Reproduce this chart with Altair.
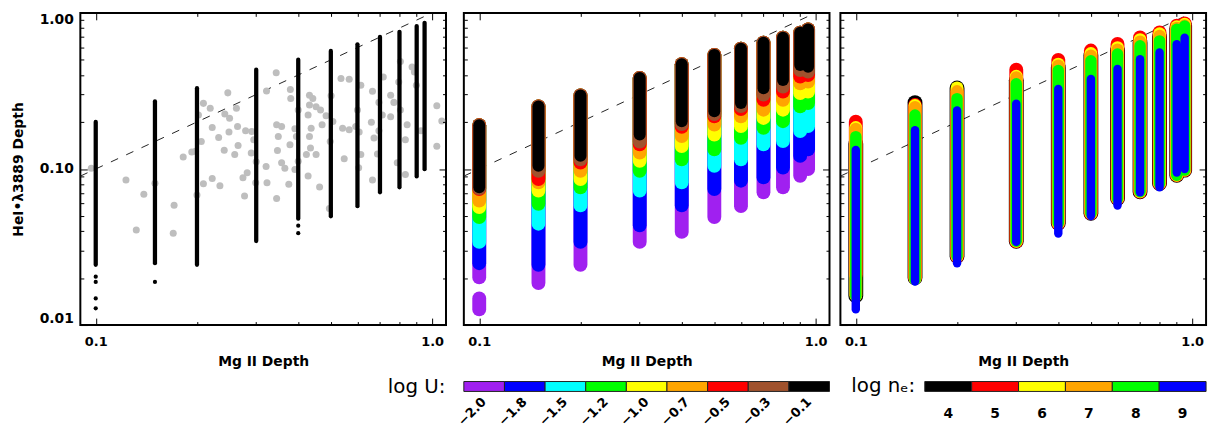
import altair as alt
import pandas as pd

FONT = "DejaVu Sans"

# Mg II depth grid of the photoionisation models
MG = [0.1, 0.15, 0.2, 0.3, 0.4, 0.5, 0.6, 0.7, 0.8, 0.9, 0.95]

# ---------- panel 1: all models (black) + observed (gray) ----------
P1_TOP = [0.200, 0.271, 0.329, 0.433, 0.501, 0.571, 0.629, 0.701, 0.757, 0.824, 0.864]
P1_BOT = [0.0243, 0.0249, 0.0243, 0.0345, 0.048, 0.0497, 0.0578, 0.0709, 0.0763, 0.0896, 0.0997]
P1_ISO_X = [0.1, 0.1, 0.1, 0.1, 0.15, 0.4, 0.4]
P1_ISO_Y = [0.0204, 0.0189, 0.0148, 0.0128, 0.0189, 0.0433, 0.0388]

GRAY_X = [0.097, 0.123, 0.139, 0.132, 0.150, 0.171, 0.170, 0.182, 0.193, 0.198, 0.206, 0.202,
          0.209, 0.219, 0.222, 0.232, 0.209, 0.200, 0.222, 0.234, 0.247, 0.242, 0.250, 0.262,
          0.264, 0.249, 0.241, 0.259, 0.265, 0.279, 0.291, 0.295, 0.290, 0.300, 0.282, 0.274,
          0.277, 0.299, 0.322, 0.321, 0.323,
          0.344, 0.379, 0.380, 0.400, 0.345, 0.357, 0.349, 0.378, 0.347, 0.357, 0.365, 0.375,
          0.345, 0.391, 0.395, 0.391, 0.400, 0.432, 0.442, 0.432, 0.452, 0.466, 0.484, 0.428,
          0.437, 0.432, 0.435, 0.452, 0.423, 0.428, 0.463, 0.471, 0.501, 0.507, 0.498, 0.548,
          0.542, 0.536, 0.567, 0.495, 0.567, 0.600, 0.593, 0.607, 0.614, 0.665, 0.695, 0.660,
          0.695, 0.711, 0.672, 0.614, 0.688, 0.605, 0.665, 0.716, 0.753, 0.770, 0.805, 0.796,
          0.805, 0.753, 0.872, 0.898, 0.843, 0.833, 0.927, 1.033, 1.069, 1.033, 0.788, 0.833,
          0.886]
GRAY_Y = [0.101, 0.0849, 0.0689, 0.0407, 0.0809, 0.0586, 0.0388, 0.1195, 0.1286, 0.1297, 0.1501, 0.2218,
          0.2632, 0.2447, 0.1843, 0.1592, 0.0805, 0.0682, 0.087, 0.0782, 0.3073, 0.2251, 0.2114, 0.2447,
          0.187, 0.1723, 0.1317, 0.1236, 0.1416, 0.1756, 0.1738, 0.1539, 0.1267, 0.1111, 0.0946, 0.088,
          0.0672, 0.0817, 0.3164, 0.1037, 0.0817,
          0.4141, 0.3229, 0.2832, 0.2387, 0.1917, 0.187, 0.1615, 0.1431, 0.1311, 0.1095, 0.101, 0.0797,
          0.0647, 0.1807, 0.1615, 0.0993, 0.1121, 0.2972, 0.2832, 0.2568, 0.2505, 0.2387, 0.2196, 0.2218,
          0.1826, 0.1615, 0.1363, 0.1236, 0.1236, 0.09, 0.0766, 0.1917, 0.2942, 0.2011, 0.1501, 0.1161,
          0.1826, 0.3793, 0.3754, 0.0559, 0.1781, 0.2387, 0.187, 0.1723, 0.3439, 0.315, 0.2671, 0.1994,
          0.1756, 0.2218, 0.1578, 0.1236, 0.1249, 0.1018, 0.0849, 0.3883, 0.2972, 0.2671, 0.4885, 0.3609,
          0.2387, 0.2164, 0.4495, 0.3439, 0.1917, 0.1539, 0.1756, 0.2542, 0.2032, 0.1396, 0.1095, 0.0923,
          0.4178]

# ---------- panel 2: models coloured by log U ----------
U_LABELS = ["\u22122.0", "\u22121.8", "\u22121.5", "\u22121.2", "\u22121.0",
            "\u22120.7", "\u22120.5", "\u22120.3", "\u22120.1"]
U_COLORS = ["#a020f0", "#0000ff", "#00ffff", "#00ff00", "#ffff00",
            "#ffa500", "#ff0000", "#a0522d", "#000000"]
U_WIDTHS = [14, 14, 14, 14, 14, 14, 14, 14, 12]
U_BOT = [
    [0.0202, 0.0186, 0.0243, 0.0341, 0.0395, 0.0492, 0.0578, 0.0709, 0.0763, 0.0905, 0.0997],
    [0.0249, 0.0243, 0.0341, 0.0436, 0.0584, 0.0744, 0.0841, 0.0883, 0.1022, 0.1213, 0.1336],
    [0.0341, 0.0446, 0.0584, 0.0727, 0.0821, 0.1048, 0.1154, 0.1437, 0.151, 0.1748, 0.1881],
    [0.0492, 0.0598, 0.0763, 0.0974, 0.1154, 0.1336, 0.1585, 0.1835, 0.2023, 0.2519, 0.2644],
    [0.057, 0.0727, 0.0861, 0.1127, 0.1404, 0.1663, 0.1881, 0.2123, 0.2397, 0.306, 0.3137],
    [0.0628, 0.0821, 0.0974, 0.1273, 0.1625, 0.1925, 0.2177, 0.2397, 0.2775, 0.3541, 0.3631],
    [0.0744, 0.0861, 0.11, 0.1437, 0.1862, 0.2177, 0.2422, 0.2775, 0.3137, 0.3906, 0.3999],
    [0.0752, 0.0974, 0.1154, 0.15, 0.194, 0.225, 0.253, 0.30, 0.3376, 0.4302, 0.4203],
    [0.0763, 0.1048, 0.1213, 0.1663, 0.2023, 0.2342, 0.2644, 0.3292, 0.3717, 0.4628, 0.4521],
]
U_TOP = [0.1909, 0.2519, 0.2959, 0.3827, 0.4696, 0.5387, 0.5906, 0.6451, 0.6939, 0.7464, 0.7834]
U_EXTRA_X = [0.1]
U_EXTRA_LO = [0.0126]
U_EXTRA_HI = [0.0148]

# ---------- panel 3: models coloured by log n_e ----------
NE_LABELS = ["4", "5", "6", "7", "8", "9"]
NE_COLORS = ["#000000", "#ff0000", "#ffff00", "#ffa500", "#00ff00", "#0000ff"]
NE_WIDTHS = [15, 14, 13, 12.2, 11.5, 8.5]
NE_HI = [
    [0.1451, 0.2663, 0.330, 0.3697, 0.4474, 0.5333, 0.5737, 0.6451, 0.7041, 0.7915, 0.8271],
    [0.2010, 0.2568, 0.3152, 0.4321, 0.5001, 0.5737, 0.6318, 0.6969, 0.7497, 0.8271, 0.8551],
    [0.1843, 0.2549, 0.3307, 0.3925, 0.4696, 0.5492, 0.5995, 0.6739, 0.7356, 0.815, 0.8453],
    [0.1807, 0.2494, 0.3152, 0.3868, 0.4607, 0.5333, 0.5822, 0.6545, 0.7145, 0.8032, 0.833],
    [0.1611, 0.2218, 0.2824, 0.3516, 0.4271, 0.4943, 0.5452, 0.6155, 0.6622, 0.7857, 0.8247],
    [0.1322, 0.1771, 0.2373, 0.2617, 0.3258, 0.3772, 0.4365, 0.5053, 0.5572, 0.6291, 0.6939],
]
NE_LO = [
    [0.0154, 0.0201, 0.0276, 0.0344, 0.0449, 0.052, 0.0648, 0.0714, 0.0807, 0.0912, 0.0983],
    [0.0211, 0.0201, 0.0276, 0.0344, 0.0449, 0.052, 0.0648, 0.0714, 0.0807, 0.0912, 0.0983],
    [0.0155, 0.0199, 0.0276, 0.0344, 0.0449, 0.052, 0.0648, 0.0714, 0.0807, 0.0912, 0.0983],
    [0.0155, 0.0199, 0.0276, 0.0344, 0.0449, 0.052, 0.0648, 0.0714, 0.0807, 0.0912, 0.0983],
    [0.0153, 0.0196, 0.0276, 0.0344, 0.0449, 0.052, 0.0648, 0.0714, 0.0807, 0.0912, 0.0983],
    [0.0126, 0.019, 0.0249, 0.0341, 0.0386, 0.0499, 0.0584, 0.0709, 0.0763, 0.095, 0.0999],
]

# axes
X_DOMAIN = [0.09, 1.1]
Y_DOMAIN = [0.01, 1.0]
X_MAJOR = [0.1, 1.0]
X_MINOR = [0.2, 0.3, 0.4, 0.5, 0.6, 0.7, 0.8, 0.9]
Y_MAJOR = [0.01, 0.1, 1.0]
Y_MINOR = [0.02, 0.03, 0.04, 0.05, 0.06, 0.07, 0.08, 0.09,
           0.2, 0.3, 0.4, 0.5, 0.6, 0.7, 0.8, 0.9]
DIAG = [0.09, 1.0]

W, H = 369, 315
MAJ, MIN = 7, 3.5
CB_H = 24
CB_PAD = 0.7
VSPACE = 4

XS = alt.Scale(type="log", domain=X_DOMAIN, nice=False)
YS = alt.Scale(type="log", domain=Y_DOMAIN, nice=False)

# ---------- data tables ----------
p1_cols = pd.DataFrame({"x": MG, "lo": P1_BOT, "hi": P1_TOP})
p1_iso = pd.DataFrame({"x": P1_ISO_X, "y": P1_ISO_Y})
gray = pd.DataFrame({"x": GRAY_X, "y": GRAY_Y})
diag = pd.DataFrame({"x": DIAG, "y": DIAG})

carrier = pd.DataFrame({"x": [0.5], "y": [0.5]})


def axis_layer(xaxis, yaxis):
    return alt.Chart(carrier).mark_point(opacity=0).encode(
        x=alt.X("x:Q", scale=XS, axis=xaxis),
        y=alt.Y("y:Q", scale=YS, axis=yaxis),
    )


def tick_axis(orient, values, size):
    return alt.Axis(orient=orient, values=values, tickSize=size, offset=-size,
                    domain=False, grid=False, labels=False, title=None,
                    tickColor="black", tickWidth=1, zindex=1)


def panel(data_layers, ylabels):
    xmain = alt.Axis(orient="bottom", values=X_MAJOR, format=".1f", tickSize=MAJ, offset=-MAJ,
                     domain=False, grid=False, labelPadding=11, labelFlush=False,
                     labelFont=FONT, labelFontSize=13, labelFontWeight="bold", labelColor="black",
                     title="Mg II Depth", titleFont=FONT, titleFontSize=14, titleFontWeight="bold",
                     titleColor="black", titlePadding=6, tickColor="black", zindex=1)
    if ylabels:
        ymain = alt.Axis(orient="left", values=Y_MAJOR, format=".2f", tickSize=MAJ, offset=-MAJ,
                         domain=False, grid=False, labelPadding=7, labelFlush=True,
                         labelFont=FONT, labelFontSize=14, labelFontWeight="bold", labelColor="black",
                         title="HeI\u2022\u03bb3889 Depth", titleFont=FONT, titleFontSize=14,
                         titleFontWeight="bold", titleColor="black", titlePadding=14,
                         tickColor="black", zindex=1)
    else:
        ymain = tick_axis("left", Y_MAJOR, MAJ)
    axes = [
        axis_layer(xmain, ymain),
        axis_layer(tick_axis("bottom", X_MINOR, MIN), tick_axis("left", Y_MINOR, MIN)),
        axis_layer(tick_axis("top", X_MAJOR, MAJ), tick_axis("right", Y_MAJOR, MAJ)),
        axis_layer(tick_axis("top", X_MINOR, MIN), tick_axis("right", Y_MINOR, MIN)),
    ]
    line = alt.Chart(diag).mark_line(color="#222222", strokeWidth=1, strokeDash=[8, 9]).encode(
        x=alt.X("x:Q", scale=XS, axis=None), y=alt.Y("y:Q", scale=YS, axis=None))
    return alt.layer(line, *data_layers, *axes).resolve_axis(
        x="independent", y="independent").properties(width=W, height=H)


def rule_layer(df, color, width):
    return alt.Chart(df).mark_rule(strokeCap="round", color=color, strokeWidth=width,
                                   opacity=1).encode(
        x=alt.X("x:Q", scale=XS, axis=None), y=alt.Y("lo:Q", scale=YS, axis=None), y2="hi:Q")


# panel 1
g_layer = alt.Chart(gray).mark_circle(color="#bebebe", opacity=1, size=50).encode(
    x=alt.X("x:Q", scale=XS, axis=None), y=alt.Y("y:Q", scale=YS, axis=None))
c_layer = rule_layer(p1_cols, "black", 4.3)
i_layer = alt.Chart(p1_iso).mark_circle(color="black", opacity=1, size=18).encode(
    x=alt.X("x:Q", scale=XS, axis=None), y=alt.Y("y:Q", scale=YS, axis=None))
p1 = panel([g_layer, c_layer, i_layer], True)

# panel 2: one layer per ionisation parameter, low U first, high U on top
u_layers = [rule_layer(pd.DataFrame({"x": U_EXTRA_X, "lo": U_EXTRA_LO, "hi": U_EXTRA_HI}),
                       U_COLORS[0], U_WIDTHS[0])]
for col, wid, bots in zip(U_COLORS, U_WIDTHS, U_BOT):
    u_layers.append(rule_layer(pd.DataFrame({"x": MG, "lo": bots, "hi": U_TOP}), col, wid))
p2 = panel(u_layers, False)

# panel 3: one layer per density, drawn from the largest (log n_e = 4) to the smallest symbol
n_layers = []
for col, wid, los, his in zip(NE_COLORS, NE_WIDTHS, NE_LO, NE_HI):
    n_layers.append(rule_layer(pd.DataFrame({"x": MG, "lo": los, "hi": his}), col, wid))
p3 = panel(n_layers, False)

NO_FRAME = alt.ViewBackground(stroke="transparent")
CB_Y = alt.Scale(paddingInner=0, paddingOuter=CB_PAD)

# label "log U:" sits under panel 1, just left of the first colour bar
cb1_df = pd.DataFrame({"name": ["log U:"]})
cb1 = alt.Chart(cb1_df).mark_point(opacity=0).encode(
    y=alt.Y("name:N", scale=CB_Y,
            axis=alt.Axis(title=None, ticks=False, domain=False, labelPadding=0, offset=-(W - 1),
                          labelFont=FONT, labelFontSize=20, labelColor="black")),
).properties(width=W, height=CB_H, view=NO_FRAME)

cb2_df = pd.DataFrame({"lab": U_LABELS, "name": ["U"] * len(U_LABELS)})
cb2 = alt.Chart(cb2_df).mark_rect(stroke="#222222", strokeWidth=1).encode(
    x=alt.X("lab:N", sort=U_LABELS, scale=alt.Scale(paddingInner=0, paddingOuter=0),
            axis=alt.Axis(title=None, labelAngle=-45, labelAlign="right", labelBaseline="middle",
                          ticks=False, domain=False, labelPadding=1, labelFont=FONT,
                          labelFontSize=13, labelFontWeight="bold", labelColor="black")),
    y=alt.Y("name:N", scale=CB_Y, axis=None),
    color=alt.Color("lab:N", scale=alt.Scale(domain=U_LABELS, range=U_COLORS), legend=None),
).properties(width=W, height=CB_H, view=NO_FRAME)

cb3_df = pd.DataFrame({"ne": NE_LABELS, "name": ["log n\u2091:"] * len(NE_LABELS)})
cb3 = alt.Chart(cb3_df).mark_rect(stroke="#222222", strokeWidth=1).encode(
    x=alt.X("ne:N", sort=NE_LABELS, scale=alt.Scale(paddingInner=0, paddingOuter=0.9, align=1),
            axis=alt.Axis(title=None, labelAngle=0, ticks=False, domain=False, labelPadding=8,
                          labelFont=FONT, labelFontSize=14, labelFontWeight="bold",
                          labelColor="black")),
    y=alt.Y("name:N", scale=CB_Y,
            axis=alt.Axis(title=None, ticks=False, domain=False, labelPadding=10,
                          offset=-85, labelFont=FONT, labelFontSize=20,
                          labelColor="black")),
    color=alt.Color("ne:N", scale=alt.Scale(domain=NE_LABELS, range=NE_COLORS), legend=None),
).properties(width=W, height=CB_H, view=NO_FRAME)

col1 = alt.vconcat(p1, cb1, spacing=VSPACE)
col2 = alt.vconcat(p2, cb2, spacing=VSPACE)
col3 = alt.vconcat(p3, cb3, spacing=VSPACE)

chart = alt.hconcat(col1, col2, col3, spacing=6).resolve_scale(
    color="independent", size="independent"
).properties(
    padding={"left": 2, "top": 0, "right": 5, "bottom": 2}
).configure_view(stroke="black", strokeWidth=2)

chart.save("out.html", embed_options={"renderer": "svg", "actions": False})
